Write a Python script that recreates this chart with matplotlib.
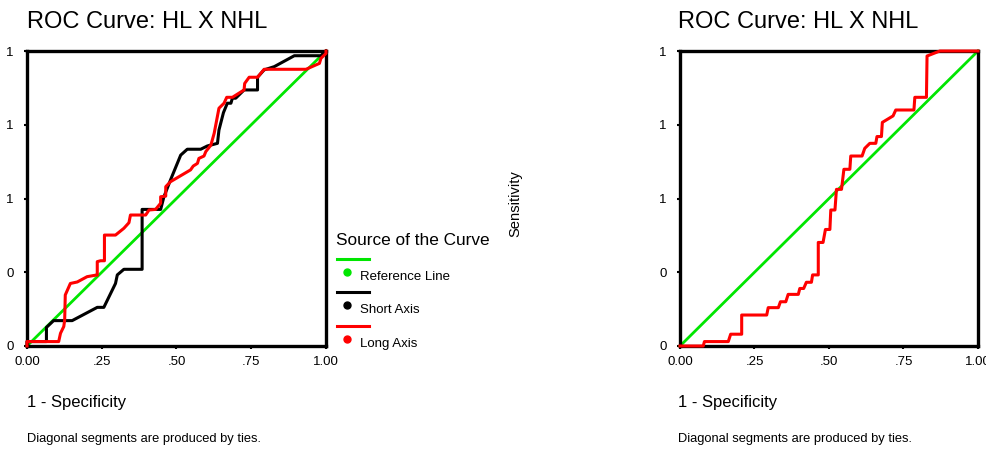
"""
ROC curves: HL x NHL, short axis / long axis (left) and a single curve (right).
"""

import matplotlib
matplotlib.use("Agg")
import matplotlib.pyplot as plt
from matplotlib.lines import Line2D

plt.rcParams["font.family"] = ["Liberation Sans", "DejaVu Sans"]

W, H = 987, 449

# ---- data ----
x_ticks = [0.0, 0.25, 0.5, 0.75, 1.0]
x_tick_labels = ["0.00", ".25", ".50", ".75", "1.00"]
y_ticks = [0.0, 0.25, 0.5, 0.75, 1.0]
y_tick_labels = ["0", "0", "1", "1", "1"]

ref_x = [0.0, 1.0]
ref_y = [0.0, 1.0]

short_x = [0.0, 0.0, 0.065, 0.065, 0.089, 0.151, 0.235, 0.257, 0.296, 0.302,
           0.324, 0.385, 0.385, 0.397, 0.447, 0.458, 0.480, 0.514, 0.536, 0.581,
           0.603, 0.637, 0.642, 0.657, 0.670, 0.682, 0.687, 0.698, 0.726, 0.771,
           0.771, 0.793, 0.827, 0.894, 0.983, 1.0]
short_y = [0.0, 0.015, 0.015, 0.063, 0.086, 0.086, 0.131, 0.131, 0.212, 0.241,
           0.260, 0.260, 0.463, 0.463, 0.463, 0.506, 0.563, 0.647, 0.667, 0.667,
           0.678, 0.687, 0.732, 0.791, 0.823, 0.823, 0.840, 0.840, 0.868, 0.868,
           0.911, 0.936, 0.947, 0.984, 0.984, 1.0]

long_x = [0.0, 0.0, 0.106, 0.112, 0.123, 0.126, 0.128, 0.145, 0.168, 0.201,
          0.229, 0.235, 0.235, 0.246, 0.259, 0.259, 0.296, 0.324, 0.341, 0.346,
          0.397, 0.408, 0.430, 0.447, 0.447, 0.464, 0.464, 0.480, 0.547, 0.556,
          0.570, 0.575, 0.592, 0.598, 0.615, 0.626, 0.642, 0.659, 0.668, 0.687,
          0.726, 0.728, 0.743, 0.771, 0.793, 0.933, 0.978, 0.983, 1.0, 1.0]
long_y = [0.0, 0.015, 0.015, 0.043, 0.066, 0.088, 0.173, 0.212, 0.217, 0.235,
          0.240, 0.240, 0.286, 0.289, 0.289, 0.376, 0.376, 0.399, 0.418, 0.444,
          0.444, 0.461, 0.463, 0.484, 0.506, 0.508, 0.540, 0.557, 0.597, 0.610,
          0.619, 0.636, 0.644, 0.659, 0.681, 0.721, 0.806, 0.823, 0.843, 0.843,
          0.868, 0.890, 0.911, 0.911, 0.938, 0.938, 0.958, 0.975, 0.992, 1.0]

right_x = [0.0, 0.078, 0.082, 0.162, 0.170, 0.207, 0.207, 0.291, 0.296, 0.330,
           0.337, 0.355, 0.363, 0.397, 0.402, 0.415, 0.424, 0.441, 0.445, 0.464,
           0.464, 0.480, 0.488, 0.503, 0.506, 0.520, 0.525, 0.542, 0.550, 0.570,
           0.573, 0.611, 0.620, 0.637, 0.657, 0.661, 0.676, 0.679, 0.715, 0.724,
           0.785, 0.788, 0.827, 0.829, 0.872, 1.0]
right_y = [0.0, 0.0, 0.015, 0.015, 0.040, 0.040, 0.105, 0.105, 0.130, 0.130,
           0.150, 0.150, 0.175, 0.175, 0.195, 0.195, 0.216, 0.216, 0.241, 0.241,
           0.351, 0.351, 0.395, 0.395, 0.461, 0.461, 0.531, 0.531, 0.599, 0.599,
           0.644, 0.644, 0.670, 0.687, 0.687, 0.710, 0.710, 0.758, 0.780, 0.800,
           0.800, 0.843, 0.843, 0.983, 1.0, 1.0]

GREEN = "#00e600"
RED = "#ff0000"
BLACK = "#000000"


def fx(px):
    return px / W


def fy(py):
    return 1 - py / H


def style_axes(ax):
    ax.set_xlim(0, 1)
    ax.set_ylim(0, 1)
    ax.margins(0)
    for spine in ax.spines.values():
        spine.set_linewidth(2.4)
        spine.set_color(BLACK)
    ax.set_xticks(x_ticks)
    ax.set_xticklabels(x_tick_labels, fontsize=9.5)
    ax.set_yticks(y_ticks)
    ax.set_yticklabels(y_tick_labels, fontsize=9.5)
    ax.tick_params(direction="out", length=2.5, width=1.5)
    ax.tick_params(axis="x", pad=5)
    ax.tick_params(axis="y", pad=7)


fig = plt.figure(figsize=(W / 100, H / 100), dpi=100)

# left panel
ax1 = fig.add_axes([fx(27), fy(346), fx(326) - fx(27), fy(51) - fy(346)])
ax1.plot(ref_x, ref_y, color=GREEN, linewidth=2.0, zorder=2, clip_on=False)
ax1.plot(short_x, short_y, color=BLACK, linewidth=2.2, zorder=3, clip_on=False)
ax1.plot(long_x, long_y, color=RED, linewidth=2.2, zorder=4, clip_on=False)
style_axes(ax1)

# right panel
ax2 = fig.add_axes([fx(680), fy(346), fx(978) - fx(680), fy(51) - fy(346)])
ax2.plot(ref_x, ref_y, color=GREEN, linewidth=2.0, zorder=2, clip_on=False)
ax2.plot(right_x, right_y, color=RED, linewidth=2.2, zorder=4, clip_on=False)
style_axes(ax2)

# titles and footnotes
for left in (27, 678):
    fig.text(fx(left), fy(22), "ROC Curve: HL X NHL", fontsize=17,
             ha="left", va="center")
    fig.text(fx(left), fy(403), "1 - Specificity", fontsize=12,
             ha="left", va="center")
    fig.text(fx(left), fy(439), "Diagonal segments are produced by ties.",
             fontsize=9.3, ha="left", va="center")

fig.text(fx(515), fy(204), "Sensitivity", fontsize=10.6, rotation=90,
         ha="center", va="center")

# legend, drawn by hand
fig.text(fx(336), fy(240), "Source of the Curve", fontsize=12.4,
         ha="left", va="center")
entries = [("Reference Line", GREEN, 259), ("Short Axis", BLACK, 292),
           ("Long Axis", RED, 326)]
for label, color, ly in entries:
    fig.add_artist(Line2D([fx(337), fx(369)], [fy(ly), fy(ly)],
                          color=color, linewidth=2.2,
                          transform=fig.transFigure))
    fig.add_artist(Line2D([fx(347)], [fy(ly + 13)], marker="o", markersize=5,
                          color=color, linestyle="none",
                          transform=fig.transFigure))
    fig.text(fx(360), fy(ly + 18), label, fontsize=9.5, ha="left",
             va="center")

fig.savefig("out.png", dpi=100)
plt.close(fig)
